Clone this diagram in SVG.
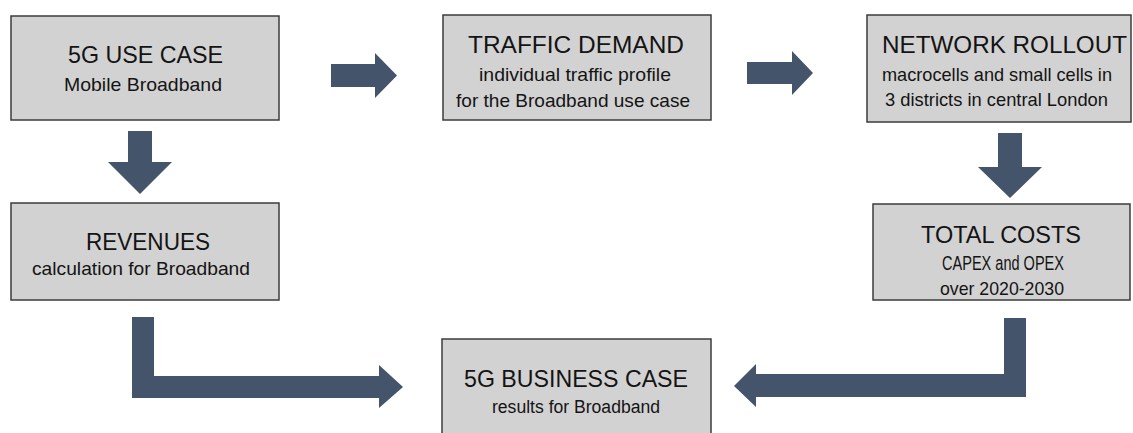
<svg xmlns="http://www.w3.org/2000/svg" width="1133" height="433" viewBox="0 0 1133 433">
<style>
.box{fill:#d2d2d2;stroke:#3c3c3c;stroke-width:1.5}
.t{font-family:"Liberation Sans",Arial,sans-serif;fill:#141414}
.h{font-size:24px}
.s{font-size:18.5px}
.arr{fill:#44546a}
</style>
<rect width="1133" height="433" fill="#ffffff"/>
<g id="connectors">
<polygon class="arr" points="331,64 375,64 375,53 397,75.5 375,98 375,87 331,87"/>
<polygon class="arr" points="747,62 792,62 792,51 813,73 792,95 792,84 747,84"/>
<polygon class="arr" points="128,131 152,131 152,162 172,162 140,194 108,162 128,162"/>
<polygon class="arr" points="998,133 1022,133 1022,167 1042,167 1010,198 978,167 998,167"/>
<polygon class="arr" points="132,317 154,317 154,376 379,376 379,365 403,387 379,408 379,398 132,398"/>
<polygon class="arr" points="1026,318 1026,397 756,397 756,407 734,386 756,364 756,374 1004,374 1004,318"/>
</g>
<g id="use-case">
<rect class="box" x="11" y="16" width="268" height="104"/>
<text class="t h" x="68" y="63" textLength="155" lengthAdjust="spacingAndGlyphs">5G USE CASE</text>
<text class="t s" x="64" y="91" textLength="158" lengthAdjust="spacingAndGlyphs">Mobile Broadband</text>
</g>
<g id="traffic-demand">
<rect class="box" x="443" y="15" width="268" height="105"/>
<text class="t h" x="468" y="53" textLength="216" lengthAdjust="spacingAndGlyphs">TRAFFIC DEMAND</text>
<text class="t s" x="479" y="81" textLength="192" lengthAdjust="spacingAndGlyphs">individual traffic profile</text>
<text class="t s" x="456" y="107" textLength="234" lengthAdjust="spacingAndGlyphs">for the Broadband use case</text>
</g>
<g id="network-rollout">
<rect class="box" x="867" y="15" width="264" height="107"/>
<text class="t h" x="882" y="53" textLength="245" lengthAdjust="spacingAndGlyphs">NETWORK ROLLOUT</text>
<text class="t s" x="882" y="81" textLength="230" lengthAdjust="spacingAndGlyphs">macrocells and small cells in</text>
<text class="t s" x="885" y="106" textLength="223" lengthAdjust="spacingAndGlyphs">3 districts in central London</text>
</g>
<g id="revenues">
<rect class="box" x="11" y="203" width="268" height="97"/>
<text class="t h" x="86" y="250" textLength="124" lengthAdjust="spacingAndGlyphs">REVENUES</text>
<text class="t s" x="32" y="275" textLength="218" lengthAdjust="spacingAndGlyphs">calculation for Broadband</text>
</g>
<g id="total-costs">
<rect class="box" x="873" y="204" width="257" height="96"/>
<text class="t h" x="921" y="243" textLength="160" lengthAdjust="spacingAndGlyphs">TOTAL COSTS</text>
<text class="t" font-size="20.5" x="942" y="270" textLength="122" lengthAdjust="spacingAndGlyphs">CAPEX and OPEX</text>
<text class="t" font-size="19" x="940" y="295" textLength="124" lengthAdjust="spacingAndGlyphs">over 2020-2030</text>
</g>
<g id="business-case">
<rect class="box" x="442" y="339" width="269" height="104"/>
<text class="t h" x="464" y="387" textLength="224" lengthAdjust="spacingAndGlyphs">5G BUSINESS CASE</text>
<text class="t" font-size="18" x="492" y="413" textLength="168" lengthAdjust="spacingAndGlyphs">results for Broadband</text>
</g>
</svg>
